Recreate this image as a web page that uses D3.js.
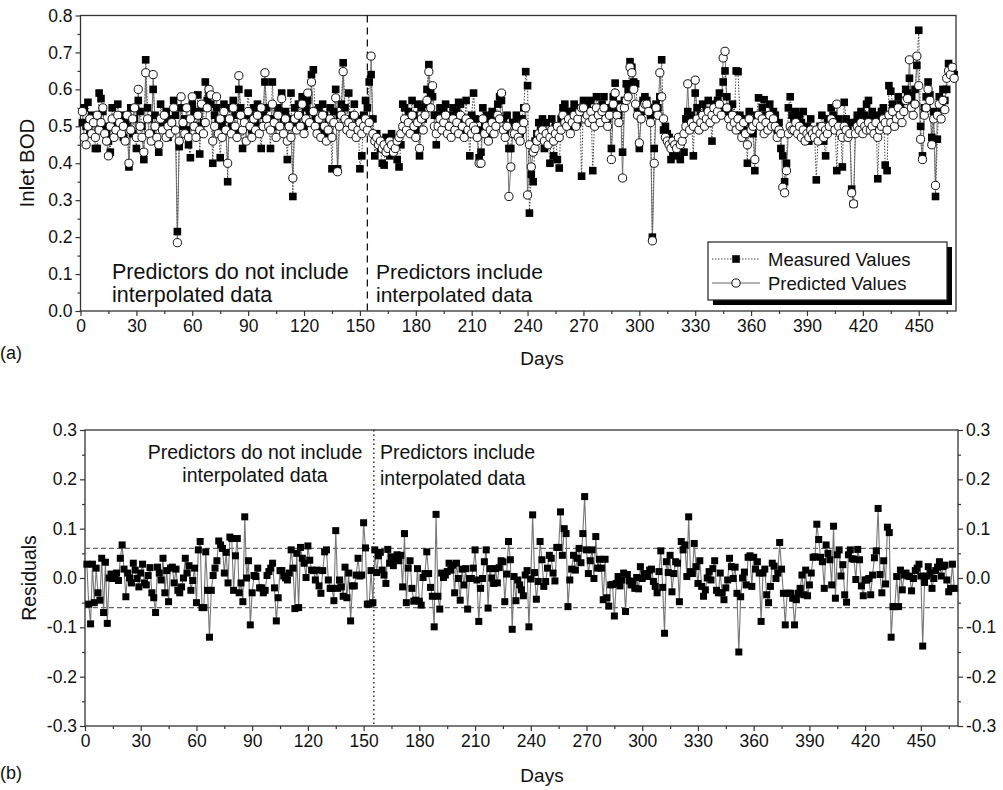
<!DOCTYPE html>
<html><head><meta charset="utf-8">
<script src="https://cdn.jsdelivr.net/npm/d3@7"></script>
<style>
body{margin:0;background:#fff}
svg{display:block}
text{font-family:"Liberation Sans",Arial,Helvetica,sans-serif;fill:#111}
</style>
</head><body>
<svg id="chart" width="1003" height="790"></svg>
<script>
// Daily inlet BOD, measured and model-predicted (panel a)
const measured = [
.51,.55,.50,.565,.48,.53,.52,.44,.44,.59,
.575,.54,.50,.48,.46,.43,.55,.50,.52,.56,
.49,.53,.47,.51,.50,.39,.55,.48,.52,.44,
.57,.54,.50,.41,.68,.55,.52,.48,.60,.53,
.46,.43,.56,.51,.49,.54,.47,.52,.50,.57,
.53,.215,.445,.55,.50,.52,.49,.45,.415,.56,
.54,.50,.585,.425,.55,.51,.62,.57,.59,.56,
.40,.53,.55,.51,.415,.50,.56,.52,.35,.55,
.50,.57,.53,.49,.60,.55,.44,.52,.50,.59,
.53,.49,.55,.51,.56,.50,.44,.53,.62,.55,
.52,
.44,.62,.52,.50,.55,.53,.59,.51,.54,.41,
.52,.59,.31,.55,.51,.56,.53,.58,.50,.55,
.57,.54,.64,.653,.52,.50,.55,.49,.56,.53,
.48,.52,.55,.385,.54,.60,.385,.53,.56,.672,
.55,.52,.59,.50,.53,.56,.49,.52,.385,.42,
.53,.57,.55,.62,.64,.52,.42,.48,.46,.44,
.40,.395,.47,.45,.42,.48,.44,.46,.41,.39,
.45,.56,.55,.52,.54,.50,.57,.53,.49,.56,
.42,.55,.52,.56,.60,.667,.59,.58,.53,.45,
.53,.55,.51,.54,.56,.50,.53,.49,.55,.52,
.54,.565,.56,.52,.49,.57,.51,.42,.53,.59,
.52,.49,.415,.43,.55,.50,.53,.47,.52,.54,
.50,.53,.56,.58,.57,.52,.49,.53,.44,.44,
.51,
.51,.53,.49,.48,.52,.55,.648,.61,.265,.37,
.35,.46,.48,.51,.49,.52,.44,.51,.47,.40,
.52,.42,.50,.41,.387,.52,.55,.56,.53,.54,
.50,.54,.56,.53,.51,.55,.365,.57,.54,.56,
.53,.57,.38,.52,.58,.55,.53,.56,.58,.54,
.52,.55,.44,.58,.617,.55,.53,.56,.43,.57,
.615,.60,.675,.66,.62,.615,.55,.44,.54,.57,
.58,.57,.55,.53,.20,.44,.56,.55,.58,.68,
.49,.50,.48,.47,.41,.43,.45,.42,.46,.41,
.47,.43,.52,.54,.50,.53,.42,.59,.55,.51,
.53,.56,.52,.54,.57,.53,.46,.56,.54,.57,
.59,.55,.62,.65,.58,.54,.52,.56,.53,.65,
.648,.53,.50,.49,.52,.40,.54,.51,.48,.38,
.53,.577,.52,.55,.572,.53,.51,.56,.52,.54,
.53,.49,.51,.44,.42,.35,.40,.55,.58,.53,
.52,
.54,.50,.53,.51,.54,.48,.50,.46,.52,.47,
.49,.355,.48,.50,.53,.46,.42,.52,.50,.55,
.53,.51,.38,.52,.50,.39,.565,.52,.49,.51,
.33,.29,.51,.53,.50,.54,.52,.53,.56,.57,
.52,.54,.50,.53,.358,.52,.54,.55,.395,.38,
.61,.595,.56,.52,.55,.58,.56,.54,.57,.60,
.59,.63,.58,.56,.60,.665,.76,.50,.42,.55,
.58,.62,.585,.47,.54,.31,.465,.58,.55,.60,
.57,.60,.67,.65,.653,.64
];
const predicted = [
.54,.47,.45,.50,.52,.48,.51,.47,.53,.49,
.51,.55,.48,.46,.42,.50,.52,.47,.49,.53,
.51,.48,.50,.46,.53,.40,.49,.52,.55,.47,
.60,.50,.47,.43,.645,.52,.48,.46,.64,.50,
.47,.45,.52,.49,.53,.47,.50,.48,.51,.55,
.49,.185,.46,.58,.51,.48,.55,.47,.52,.58,
.50,.47,.53,.49,.56,.48,.51,.55,.60,.585,
.46,.50,.58,.48,.52,.47,.54,.49,.40,.52,
.48,.55,.50,.47,.637,.53,.49,.51,.46,.54,
.50,.47,.52,.49,.53,.48,.55,.50,.645,.52,
.50,
.49,.56,.51,.47,.53,.50,.575,.48,.52,.46,
.50,.47,.36,.52,.49,.53,.50,.56,.48,.52,
.59,.51,.62,.54,.50,.48,.52,.47,.53,.50,
.46,.49,.52,.47,.51,.577,.377,.50,.53,.648,
.52,.49,.51,.48,.50,.53,.47,.49,.51,.48,
.50,.52,.49,.51,.69,.48,.46,.47,.45,.46,
.44,.45,.43,.44,.46,.45,.43,.44,.46,.47,
.48,.50,.52,.49,.51,.48,.53,.50,.47,.51,
.44,.52,.49,.53,.57,.648,.55,.61,.50,.48,
.50,.52,.49,.51,.53,.48,.50,.47,.52,.49,
.51,.48,.53,.50,.47,.52,.49,.51,.48,.50,
.49,.47,.40,.40,.52,.48,.50,.46,.49,.51,
.48,.50,.53,.52,.59,.49,.47,.50,.31,.39,
.48,
.48,.50,.47,.46,.49,.51,.55,.314,.45,.39,
.43,.44,.46,.48,.47,.49,.46,.48,.45,.47,
.49,.46,.48,.50,.47,.49,.53,.51,.50,.52,
.48,.51,.53,.50,.52,.54,.55,.55,.52,.53,
.51,.54,.52,.50,.55,.53,.51,.54,.55,.52,
.50,.53,.41,.56,.59,.53,.51,.55,.36,.55,
.57,.58,.66,.645,.60,.56,.53,.455,.52,.55,
.56,.56,.54,.51,.19,.40,.55,.53,.645,.58,
.52,.47,.46,.45,.44,.46,.45,.44,.47,.45,
.46,.48,.50,.615,.49,.51,.50,.625,.52,.49,
.51,.53,.50,.52,.54,.51,.53,.55,.52,.54,
.56,.53,.685,.703,.55,.52,.50,.53,.51,.49,
.52,.50,.47,.51,.48,.45,.52,.49,.50,.41,
.51,.53,.50,.52,.48,.51,.49,.53,.50,.52,
.50,.47,.49,.48,.335,.32,.38,.48,.50,.49,
.49,
.51,.48,.50,.47,.49,.46,.48,.47,.49,.48,
.47,.49,.46,.48,.50,.47,.49,.48,.50,.52,
.51,.49,.56,.50,.48,.47,.50,.49,.47,.48,
.32,.29,.48,.50,.49,.51,.48,.50,.49,.51,
.49,.50,.48,.51,.47,.49,.50,.52,.51,.49,
.53,.51,.54,.50,.52,.55,.53,.51,.54,.57,
.575,.68,.55,.53,.56,.69,.61,.465,.41,.53,
.55,.60,.57,.45,.52,.34,.53,.56,.52,.57,
.545,.63,.65,.64,.66,.63
];
// Daily residuals of the model (panel b)
const residuals = [
.028,-.053,-.093,.028,-.050,.020,-.030,-.045,.040,-.070,
.032,-.092,.000,.008,-.001,.004,.010,-.005,.040,.067,
.018,-.038,.010,.000,-.010,.030,.016,-.001,-.018,.010,
.028,-.010,-.014,.005,.021,-.030,-.040,-.070,.022,.010,
-.004,.040,-.030,.015,-.048,.020,.022,-.010,.018,-.025,
-.030,-.018,.000,.040,.010,.025,-.025,-.005,.020,-.050,
.057,.074,-.060,-.060,.053,-.025,-.120,-.025,.005,.020,
.035,.075,.067,.060,.010,.052,-.010,.083,.080,-.025,
.045,.080,-.030,-.010,-.048,.124,.000,.035,-.095,-.030,
.005,.003,.020,-.020,-.020,-.030,-.025,.005,.013,.020,
.030,-.020,-.087,-.040,.015,.015,.004,.000,-.004,.010,
.057,.020,-.062,.050,-.060,.062,.040,.030,.001,.065,
.036,.016,.015,-.004,.016,-.016,-.031,.015,.053,.057,
-.004,-.021,-.021,-.046,.096,-.021,-.004,-.018,-.037,.022,
-.040,.010,-.087,-.016,-.016,.006,.040,.004,.006,.112,
.061,-.053,-.053,.015,-.050,.057,.011,.045,.052,.016,
.006,-.011,.058,.030,.043,.025,.038,.047,.035,.046,
-.018,.090,-.050,.020,.035,-.021,-.047,-.045,.019,-.047,
-.055,.001,.009,.053,.009,-.019,-.037,-.099,.129,-.037,
-.063,.010,.001,.006,.013,.030,.016,.026,-.030,.030,
-.001,-.045,.018,-.014,.019,-.063,-.001,-.001,.020,.057,
-.004,-.088,-.021,-.001,.033,.057,-.061,.019,.000,-.011,
.019,-.010,.021,.035,.033,-.048,.008,.074,.037,-.104,
.003,-.046,-.004,-.014,-.024,-.036,.006,.015,-.099,-.002,
.128,.011,-.043,-.007,.074,.037,-.017,-.007,.020,.046,
.040,.010,-.006,.062,.062,.134,.046,.100,.090,-.058,
-.004,.018,.046,.016,.040,.060,.031,.090,.165,.057,
.009,.035,.057,-.001,.084,.020,.038,.020,-.044,.038,
-.040,-.057,-.014,-.013,-.077,-.011,.003,-.016,-.004,.010,
-.068,.007,-.006,-.014,-.007,-.021,.001,-.022,.023,-.001,
.009,.004,.003,.016,.018,-.007,-.017,-.030,.013,.055,
-.019,-.112,.033,.011,.046,-.028,.009,.033,.030,-.048,
.074,.057,.067,.003,.124,.013,.009,.070,.023,-.011,
.035,-.017,-.037,-.024,.000,.013,-.004,.019,.035,-.025,
-.030,.010,-.030,-.044,-.020,-.004,.040,.023,-.001,.022,
-.031,-.150,-.038,.000,.012,-.014,.042,.045,-.017,.042,
.018,.033,.010,-.088,.010,.018,-.034,-.050,-.017,.030,
.024,-.001,.010,.072,.018,-.031,-.095,-.031,-.031,-.031,
-.041,-.095,-.044,-.031,-.021,.006,-.034,.016,-.036,-.014,
.010,.042,.043,.109,.078,.042,.033,-.021,.067,.050,
.037,-.014,.105,-.041,.047,.057,.004,.027,-.034,-.049,
.047,.057,.039,.038,-.003,.058,.037,-.016,-.036,-.004,
-.004,-.001,-.034,.006,.041,.055,.141,.007,-.030,.035,
-.012,.103,.092,-.120,-.058,-.058,.003,-.058,.016,-.024,
.006,.010,.004,.003,-.026,-.001,.015,.020,.028,.004,
-.138,-.009,.004,.023,.010,-.021,-.001,.015,.022,.033,
.004,.023,.026,-.004,-.028,-.021,.028,-.021
];

const dayMajorTicks = d3.range(0, 451, 30);
const dayMinorTicks = d3.range(15, 470, 30);
const bodTicks = [0,0.1,0.2,0.3,0.4,0.5,0.6,0.7,0.8];
const bodMinorTicks = [0.05,0.15,0.25,0.35,0.45,0.55,0.65,0.75];
const resTicks = [-0.3,-0.2,-0.1,0,0.1,0.2,0.3];
const resMinorTicks = [-0.25,-0.15,-0.05,0.05,0.15,0.25];
const boundaryDayA = 154;
const boundaryDayB = 155.5;
const residualLimit = 0.06;
const seriesNames = ["Measured Values", "Predicted Values"];
const splitLabelsBefore = ["Predictors do not include", "interpolated data"];
const splitLabelsAfter = ["Predictors include", "interpolated data"];

const svg = d3.select("#chart");
const fmt = v => v.toFixed(1);
const AX = "#333";

function styleAxis(g){
  g.select(".domain").remove();
  g.selectAll(".tick line").attr("stroke", AX).attr("stroke-width", 1.2);
  g.selectAll(".tick text").attr("font-size", 17.5).attr("fill", "#222")
    .attr("font-family", '"Liberation Sans",Arial,sans-serif');
}

// ---------- Panel (a) ----------
const xA = d3.scaleLinear().domain([0, 470]).range([80.5, 956]);
const yA = d3.scaleLinear().domain([0, 0.8]).range([311, 15.5]);
const gA = svg.append("g");

gA.append("g").attr("transform", "translate(0,311)")
  .call(d3.axisBottom(xA).tickValues(dayMajorTicks).tickSize(5).tickSizeOuter(0).tickPadding(4).tickFormat(d3.format("d")))
  .call(styleAxis);
gA.append("g").attr("transform", "translate(0,311)")
  .call(d3.axisBottom(xA).tickValues(dayMinorTicks).tickSize(3).tickSizeOuter(0).tickFormat(""))
  .call(styleAxis);
gA.append("g").attr("transform", "translate(80.5,0)")
  .call(d3.axisLeft(yA).tickValues(bodTicks).tickSize(5).tickSizeOuter(0).tickPadding(3).tickFormat(fmt))
  .call(styleAxis);
gA.append("g").attr("transform", "translate(80.5,0)")
  .call(d3.axisLeft(yA).tickValues(bodMinorTicks).tickSize(3).tickSizeOuter(0).tickFormat(""))
  .call(styleAxis);

gA.append("rect").attr("x", xA(0)).attr("y", yA(0.8))
  .attr("width", xA(470) - xA(0)).attr("height", yA(0) - yA(0.8))
  .attr("fill", "none").attr("stroke", AX).attr("stroke-width", 1.3);

gA.append("line").attr("x1", xA(boundaryDayA)).attr("x2", xA(boundaryDayA))
  .attr("y1", yA(0.8)).attr("y2", yA(0))
  .attr("stroke", "#111").attr("stroke-width", 1.3).attr("stroke-dasharray", "7,5");

const mPts = measured.map((v, i) => [i + 1, v]);
const pPts = predicted.map((v, i) => [i + 1, v]);
const lineA = d3.line().x(d => xA(d[0])).y(d => yA(d[1]));

gA.append("path").attr("d", lineA(mPts)).attr("fill", "none")
  .attr("stroke", "#444").attr("stroke-width", 1).attr("stroke-dasharray", "1.5,1.5");
gA.append("path").attr("d", lineA(pPts)).attr("fill", "none")
  .attr("stroke", "#666").attr("stroke-width", 0.9);

gA.append("g").selectAll("rect").data(mPts).join("rect")
  .attr("x", d => xA(d[0]) - 3.8).attr("y", d => yA(d[1]) - 3.8)
  .attr("width", 7.6).attr("height", 7.6).attr("fill", "#000");
gA.append("g").selectAll("circle").data(pPts).join("circle")
  .attr("cx", d => xA(d[0])).attr("cy", d => yA(d[1])).attr("r", 4.1)
  .attr("fill", "#fff").attr("stroke", "#111").attr("stroke-width", 1);

// annotations inside panel (a)
gA.append("text").attr("x", 112).attr("y", 279).attr("font-size", 21.5).text(splitLabelsBefore[0]);
gA.append("text").attr("x", 112).attr("y", 302).attr("font-size", 21.5).text(splitLabelsBefore[1]);
gA.append("text").attr("x", 376).attr("y", 279).attr("font-size", 21).text(splitLabelsAfter[0]);
gA.append("text").attr("x", 376).attr("y", 302).attr("font-size", 21).text(splitLabelsAfter[1]);

// legend with drop shadow
const lg = gA.append("g");
lg.append("rect").attr("x", 713).attr("y", 247).attr("width", 239).attr("height", 58).attr("fill", "#000");
lg.append("rect").attr("x", 708).attr("y", 242).attr("width", 239).attr("height", 58)
  .attr("fill", "#fff").attr("stroke", "#222").attr("stroke-width", 1.2);
lg.append("line").attr("x1", 712).attr("x2", 760).attr("y1", 259).attr("y2", 259)
  .attr("stroke", "#444").attr("stroke-width", 1).attr("stroke-dasharray", "1.5,1.5");
lg.append("rect").attr("x", 732.2).attr("y", 255.2).attr("width", 7.6).attr("height", 7.6).attr("fill", "#000");
lg.append("line").attr("x1", 712).attr("x2", 760).attr("y1", 283).attr("y2", 283)
  .attr("stroke", "#666").attr("stroke-width", 1);
lg.append("circle").attr("cx", 736).attr("cy", 283).attr("r", 4.1)
  .attr("fill", "#fff").attr("stroke", "#111");
lg.append("text").attr("x", 768).attr("y", 265.5).attr("font-size", 18.5).text(seriesNames[0]);
lg.append("text").attr("x", 768).attr("y", 289.5).attr("font-size", 18.5).text(seriesNames[1]);

svg.append("text").attr("transform", "translate(34,163) rotate(-90)")
  .attr("text-anchor", "middle").attr("font-size", 20.5).text("Inlet BOD");
svg.append("text").attr("x", 542).attr("y", 365).attr("text-anchor", "middle")
  .attr("font-size", 19).text("Days");
svg.append("text").attr("x", 0).attr("y", 359).attr("font-size", 18).text("(a)");

// ---------- Panel (b) ----------
const xB = d3.scaleLinear().domain([0, 470]).range([85, 958]);
const yB = d3.scaleLinear().domain([-0.3, 0.3]).range([726, 430]);
const gB = svg.append("g");

gB.append("g").attr("transform", "translate(0,726)")
  .call(d3.axisBottom(xB).tickValues(dayMajorTicks).tickSize(5).tickSizeOuter(0).tickPadding(4).tickFormat(d3.format("d")))
  .call(styleAxis);
gB.append("g").attr("transform", "translate(0,726)")
  .call(d3.axisBottom(xB).tickValues(dayMinorTicks).tickSize(3).tickSizeOuter(0).tickFormat(""))
  .call(styleAxis);
gB.append("g").attr("transform", "translate(85,0)")
  .call(d3.axisLeft(yB).tickValues(resTicks).tickSize(5).tickSizeOuter(0).tickPadding(3).tickFormat(fmt))
  .call(styleAxis);
gB.append("g").attr("transform", "translate(85,0)")
  .call(d3.axisLeft(yB).tickValues(resMinorTicks).tickSize(3).tickSizeOuter(0).tickFormat(""))
  .call(styleAxis);
gB.append("g").attr("transform", "translate(958,0)")
  .call(d3.axisRight(yB).tickValues(resTicks).tickSize(5).tickSizeOuter(0).tickPadding(3).tickFormat(fmt))
  .call(styleAxis);
gB.append("g").attr("transform", "translate(958,0)")
  .call(d3.axisRight(yB).tickValues(resMinorTicks).tickSize(3).tickSizeOuter(0).tickFormat(""))
  .call(styleAxis);

gB.append("rect").attr("x", xB(0)).attr("y", yB(0.3))
  .attr("width", xB(470) - xB(0)).attr("height", yB(-0.3) - yB(0.3))
  .attr("fill", "none").attr("stroke", AX).attr("stroke-width", 1.3);

[residualLimit, -residualLimit].forEach(v => {
  gB.append("line").attr("x1", xB(0)).attr("x2", xB(470))
    .attr("y1", yB(v)).attr("y2", yB(v))
    .attr("stroke", "#666").attr("stroke-width", 1.1).attr("stroke-dasharray", "5,3");
});
gB.append("line").attr("x1", xB(boundaryDayB)).attr("x2", xB(boundaryDayB))
  .attr("y1", yB(0.3)).attr("y2", yB(-0.3))
  .attr("stroke", "#222").attr("stroke-width", 1.4).attr("stroke-dasharray", "1.5,3");

const rPts = residuals.map((v, i) => [i + 1, v]);
gB.append("path").attr("d", d3.line().x(d => xB(d[0])).y(d => yB(d[1]))(rPts))
  .attr("fill", "none").attr("stroke", "#777").attr("stroke-width", 1.1);
gB.append("g").selectAll("rect").data(rPts).join("rect")
  .attr("x", d => xB(d[0]) - 3.5).attr("y", d => yB(d[1]) - 3.5)
  .attr("width", 7).attr("height", 7).attr("fill", "#000");

gB.append("text").attr("x", 255).attr("y", 459).attr("text-anchor", "middle").attr("font-size", 19.5).text(splitLabelsBefore[0]);
gB.append("text").attr("x", 255).attr("y", 482).attr("text-anchor", "middle").attr("font-size", 19.5).text(splitLabelsBefore[1]);
gB.append("text").attr("x", 380).attr("y", 459).attr("font-size", 19.5).text(splitLabelsAfter[0]);
gB.append("text").attr("x", 380).attr("y", 485).attr("font-size", 19.5).text(splitLabelsAfter[1]);

svg.append("text").attr("transform", "translate(36,578) rotate(-90)")
  .attr("text-anchor", "middle").attr("font-size", 19.5).text("Residuals");
svg.append("text").attr("x", 542).attr("y", 782).attr("text-anchor", "middle")
  .attr("font-size", 19).text("Days");
svg.append("text").attr("x", 0).attr("y", 779).attr("font-size", 18).text("(b)");
</script>
</body></html>
